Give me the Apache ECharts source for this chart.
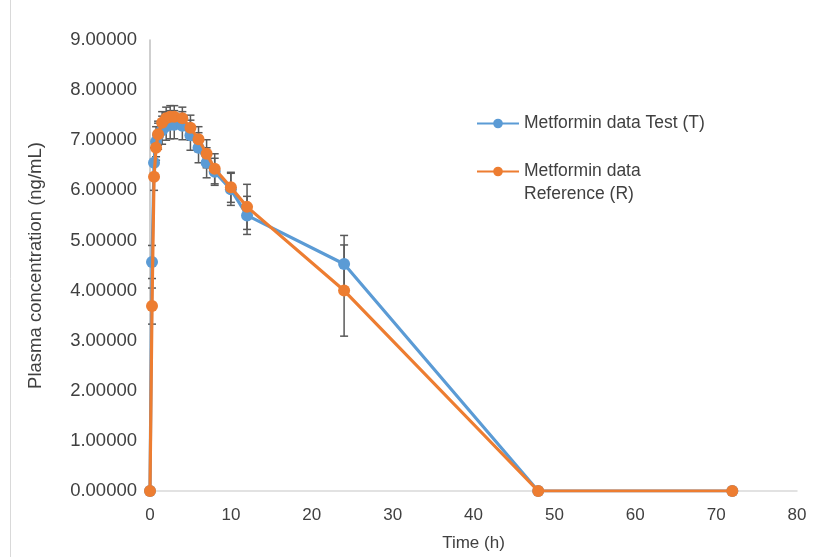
<!DOCTYPE html>
<html>
<head>
<meta charset="utf-8">
<script src="https://cdn.jsdelivr.net/npm/echarts@6/dist/echarts.min.js"></script>
<style>html,body{margin:0;padding:0;background:#fff}#c{width:816px;height:557px}</style>
</head>
<body>
<div id="c"></div>
<script>
// Data
const times = [0, 0.25, 0.5, 0.75, 1, 1.5, 2, 2.5, 3, 4, 5, 6, 7, 8, 10, 12, 24, 48, 72];
const testValues = [0, 4.57, 6.55, 6.97, 7.10, 7.20, 7.28, 7.31, 7.31, 7.29, 7.10, 6.85, 6.55, 6.37, 6.02, 5.50, 4.53, 0, 0];
const testErrors = [0, 0.33, 0.30, 0.30, 0.28, 0.28, 0.28, 0.28, 0.28, 0.28, 0.30, 0.30, 0.30, 0.27, 0.32, 0.38, 0.57, 0, 0];
const refValues = [0, 3.69, 6.27, 6.85, 7.12, 7.35, 7.44, 7.47, 7.47, 7.44, 7.25, 7.02, 6.73, 6.43, 6.06, 5.67, 4.00, 0, 0];
const refErrors = [0, 0.36, 0.27, 0.25, 0.22, 0.22, 0.22, 0.22, 0.22, 0.22, 0.25, 0.25, 0.28, 0.30, 0.30, 0.45, 0.91, 0, 0];
const seriesNames = ['Metformin data Test (T)', 'Metformin data Reference (R)'];
const legendLabels = ['Metformin data Test (T)', ' \nMetformin data\nReference (R)'];
const yTickDecimals = 5;

const FONT = 'Liberation Sans';
const textColor = '#404040';

function pairs(vals) { return times.map((t, i) => [t, vals[i]]); }
function errData(vals, errs) { return times.map((t, i) => [t, vals[i], errs[i]]); }

function errRender(params, api) {
  const x = api.value(0), v = api.value(1), e = api.value(2);
  if (!e) return null;
  const top = api.coord([x, v + e]);
  const bot = api.coord([x, v - e]);
  const half = 4;
  const st = { stroke: '#595959', lineWidth: 1.5 };
  return {
    type: 'group',
    children: [
      { type: 'line', shape: { x1: top[0], y1: top[1], x2: bot[0], y2: bot[1] }, style: st },
      { type: 'line', shape: { x1: top[0] - half, y1: top[1], x2: top[0] + half, y2: top[1] }, style: st },
      { type: 'line', shape: { x1: bot[0] - half, y1: bot[1], x2: bot[0] + half, y2: bot[1] }, style: st }
    ]
  };
}

const chart = echarts.init(document.getElementById('c'));
chart.setOption({
  animation: false,
  backgroundColor: '#fff',
  grid: { left: 150, right: 19, top: 40, bottom: 65 },
  legend: {
    orient: 'vertical', left: 471, top: 107, itemWidth: 42, itemHeight: 12, itemGap: 2,
    textStyle: { fontFamily: FONT, fontSize: 17.5, color: textColor, lineHeight: 23 },
    data: seriesNames,
    formatter: function (name) { return legendLabels[seriesNames.indexOf(name)]; }
  },
  xAxis: {
    type: 'value', min: 0, max: 80, interval: 10,
    name: 'Time (h)', nameLocation: 'middle', nameGap: 44,
    nameTextStyle: { fontFamily: FONT, fontSize: 17, color: textColor },
    axisLine: { show: true, lineStyle: { color: '#d9d9d9', width: 1.5 } },
    axisTick: { show: false },
    splitLine: { show: false },
    axisLabel: { fontFamily: FONT, fontSize: 17, color: textColor, margin: 16 }
  },
  yAxis: {
    type: 'value', min: 0, max: 9, interval: 1,
    name: 'Plasma concentration (ng/mL)', nameLocation: 'middle', nameGap: 105,
    nameTextStyle: { fontFamily: FONT, fontSize: 18.5, color: textColor },
    axisLine: { show: true, lineStyle: { color: '#bfbfbf', width: 1.5 } },
    axisTick: { show: false },
    splitLine: { show: false },
    axisLabel: { fontFamily: FONT, fontSize: 18.5, color: textColor, margin: 13,
      formatter: v => v.toFixed(yTickDecimals) }
  },
  graphic: [
    { type: 'line', shape: { x1: 10.5, y1: 0, x2: 10.5, y2: 557 }, style: { stroke: '#d9d9d9', lineWidth: 1 } }
  ],
  series: [
    { type: 'custom', renderItem: errRender, data: errData(testValues, testErrors), z: 1, silent: true, legendHoverLink: false },
    { type: 'custom', renderItem: errRender, data: errData(refValues, refErrors), z: 1, silent: true, legendHoverLink: false },
    { name: seriesNames[0], type: 'line', data: pairs(testValues), symbol: 'circle', symbolSize: 12,
      itemStyle: { color: '#5B9BD5' }, lineStyle: { color: '#5B9BD5', width: 3.2 }, z: 3 },
    { name: seriesNames[1], type: 'line', data: pairs(refValues), symbol: 'circle', symbolSize: 12,
      itemStyle: { color: '#ED7D31' }, lineStyle: { color: '#ED7D31', width: 3.2 }, z: 4 }
  ]
});
</script>
</body>
</html>
